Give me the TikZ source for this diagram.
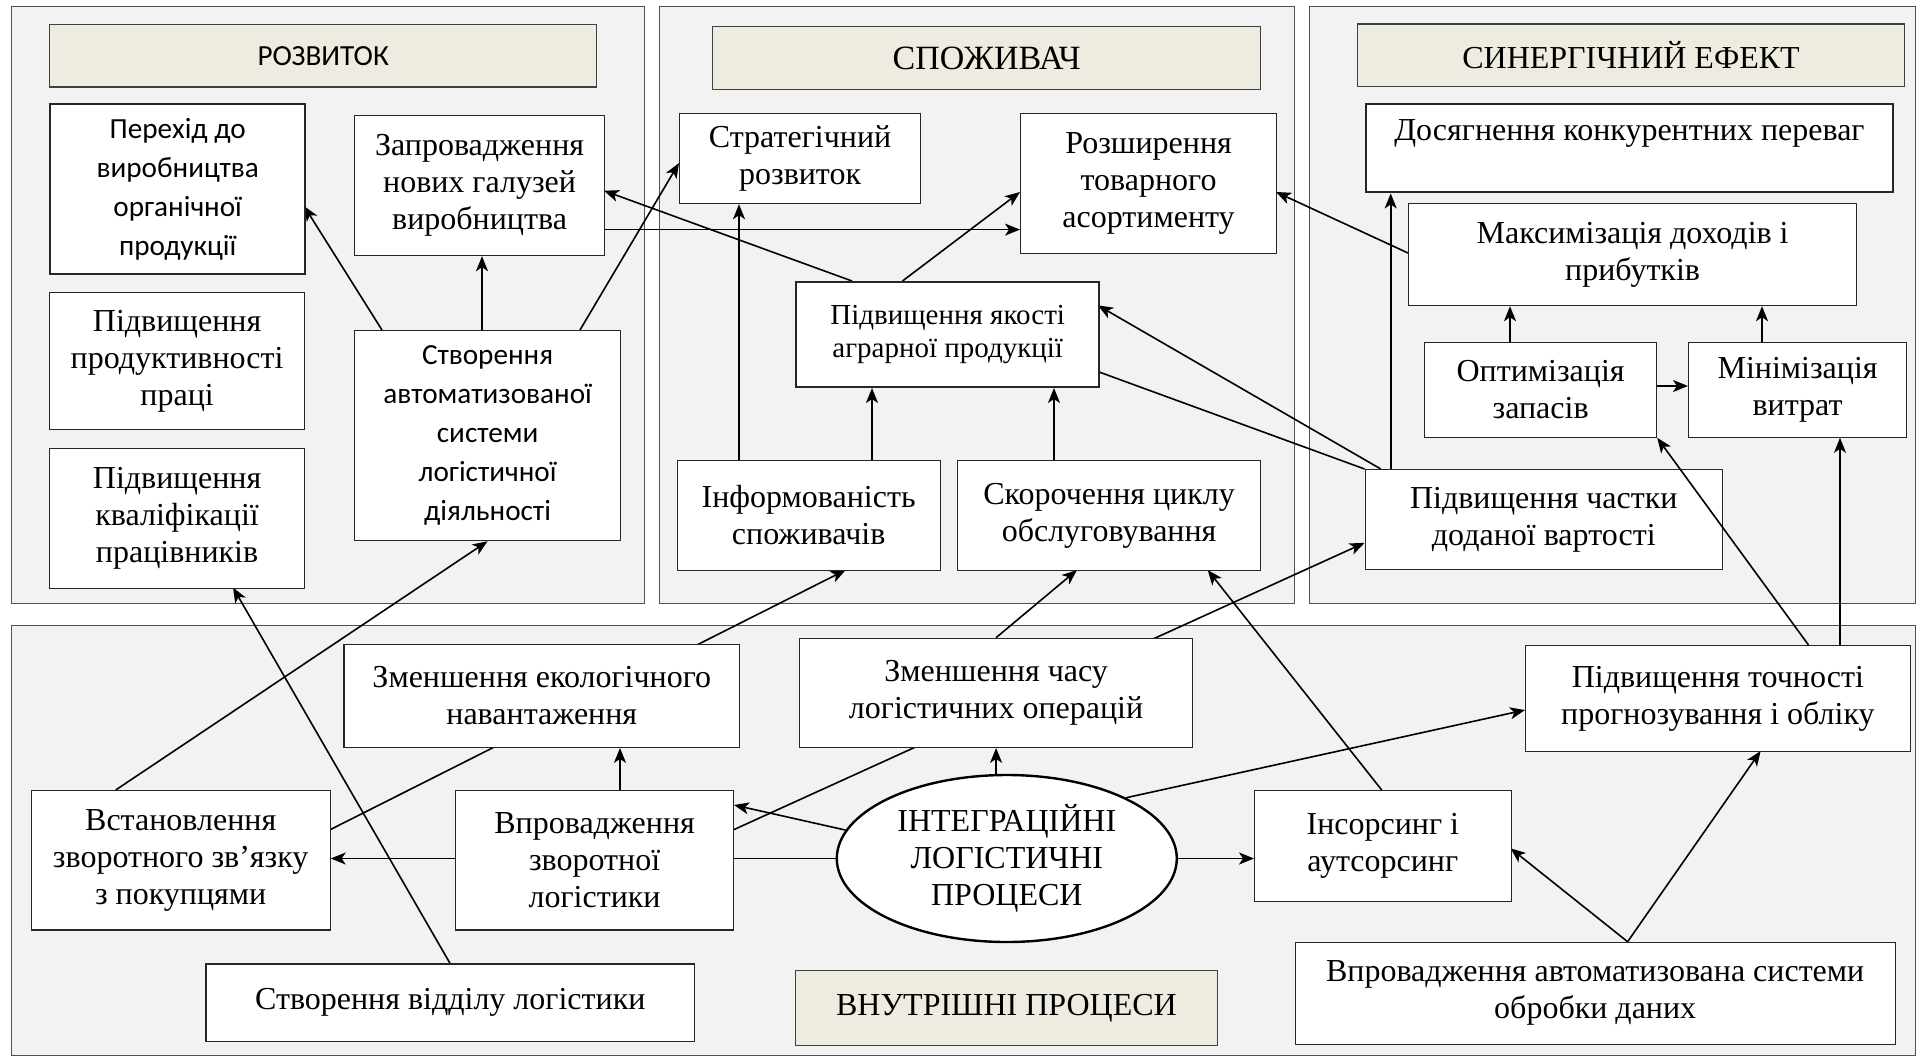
\documentclass[tikz,border=0pt]{standalone}
\usepackage{fontspec}
\setmainfont{Liberation Serif}
\newfontfamily\carl{Carlito}
\usetikzlibrary{arrows.meta,shapes.geometric}

\definecolor{panelfill}{HTML}{F2F2F2}
\definecolor{panelline}{HTML}{505050}
\definecolor{headfill}{HTML}{EEECE1}
\definecolor{headline}{HTML}{404040}

\pgfdeclarelayer{background}
\pgfdeclarelayer{edges}
\pgfsetlayers{background,edges,main}

\tikzset{
  panel/.style={draw=panelline, fill=panelfill, line width=0.7pt, inner sep=0pt, anchor=north west},
  head/.style={draw=headline, fill=headfill, line width=0.7pt, inner sep=0pt, anchor=north west, align=center},
  box/.style={draw=black!85, fill=white, line width=0.6pt, inner sep=0pt, anchor=north west, align=center},
  thick box/.style={box, line width=1.2pt},
  sz/.style 2 args={minimum width=#1, minimum height=#2},
  tnr/.style={font=\fontsize{16pt}{18.5pt}\selectfont},
  tnr small/.style={font=\fontsize{14.5pt}{16.5pt}\selectfont},
  tnr big/.style={font=\fontsize{17pt}{19pt}\selectfont},
  cbr/.style={font=\carl\fontsize{14.6pt}{19.5pt}\selectfont},
  arr/.style={draw=black, line width=0.8pt, -{Stealth[length=7.5pt,width=6pt,inset=2pt]}},
  plain/.style={draw=black, line width=0.8pt},
}

\begin{document}
\begin{tikzpicture}[x=0.5pt, y=-0.5pt]
\useasboundingbox (0,0) rectangle (1918,1057);

% ---------- group panels ----------
\begin{pgfonlayer}{background}
  \fill[white] (0,0) rectangle (1918,1057);
  \node[panel, sz={316.75pt}{298.5pt}] (p1) at (10.5,6) {};
  \node[panel, sz={317.5pt}{298.5pt}]  (p2) at (659,6) {};
  \node[panel, sz={303.15pt}{298.5pt}] (p3) at (1308.7,6) {};
  \node[panel, sz={952.25pt}{215pt}]   (p4) at (10.5,625) {};
\end{pgfonlayer}

% ---------- headers ----------
\node[head, cbr, sz={273.5pt}{31.2pt}]  (h1) at (49,24) {РОЗВИТОК};
\node[head, tnr big, sz={274pt}{31.35pt}] (h2) at (712,26) {СПОЖИВАЧ};
\node[head, tnr, sz={273.55pt}{31.35pt}] (h3) at (1356.8,23.3) {СИНЕРГІЧНИЙ ЕФЕКТ};
\node[head, tnr, sz={210.75pt}{37.5pt}] (h4) at (795,970) {ВНУТРІШНІ ПРОЦЕСИ};

% ---------- development ----------
\node[thick box, cbr, sz={127.5pt}{85pt}] (perehid) at (49,103) {Перехід до\\виробництва\\органічної\\продукції};
\node[box, tnr, sz={125pt}{70pt}]   (zaprov) at (354,115) {Запровадження\\нових галузей\\виробництва};
\node[box, tnr, sz={127.5pt}{68.5pt}] (produkt) at (49,292) {Підвищення\\продуктивності\\праці};
\node[box, tnr, sz={127.5pt}{69.75pt}] (kvalif) at (49,448) {Підвищення\\кваліфікації\\працівників};
\node[box, cbr, sz={133pt}{105pt}]  (stvavt) at (354,330) {Створення\\автоматизованої\\системи\\логістичної\\діяльності};

% ---------- consumer ----------
\node[box, tnr, sz={120.5pt}{45pt}] (strat) at (679,113) {Стратегічний\\розвиток};
\node[box, tnr, sz={128pt}{70pt}]   (rozsh) at (1020,113) {Розширення\\товарного\\асортименту};
\node[thick box, tnr small, sz={151.5pt}{52.3pt}] (yakist) at (795,281) {Підвищення якості\\аграрної продукції};
\node[box, tnr, sz={131.55pt}{55.25pt}] (inform) at (676.5,459.5) {Інформованість\\споживачів};
\node[box, tnr, sz={151.5pt}{55.25pt}]  (skor) at (957,459.5) {Скорочення циклу\\обслуговування};

% ---------- synergy ----------
\node[thick box, tnr, sz={263.7pt}{44pt}] (dosyag) at (1364.6,103) {Досягнення конкурентних переваг\\\mbox{}};
\node[box, tnr, sz={224pt}{51pt}]   (maks) at (1408,203) {Максимізація доходів і\\прибутків};
\node[box, tnr, sz={116pt}{47.3pt}] (optym) at (1424,342) {Оптимізація\\запасів};
\node[box, tnr, sz={109pt}{47.3pt}] (minim) at (1688,342) {Мінімізація\\витрат};
\node[box, tnr, sz={178.6pt}{50pt}] (chastka) at (1364.6,469) {Підвищення частки\\доданої вартості};

% ---------- internal processes ----------
\node[box, tnr, sz={197.8pt}{51.35pt}] (ekol) at (343.4,644) {Зменшення екологічного\\навантаження};
\node[box, tnr, sz={196.5pt}{54.5pt}]  (chas) at (799,637.7) {Зменшення часу\\логістичних операцій};
\node[box, tnr, sz={192.3pt}{53pt}]    (tochn) at (1525,645) {Підвищення точності\\прогнозування і обліку};
\node[box, tnr, sz={149.4pt}{69.65pt}] (vstan) at (30.7,790) {Встановлення\\зворотного зв’язку\\з покупцями};
\node[box, tnr, sz={139pt}{69.65pt}]   (vprzv) at (455,790) {Впровадження\\зворотної\\логістики};
\node[ellipse, draw=black, fill=white, line width=1.2pt, inner sep=0pt, align=center, tnr,
      minimum width=170pt, minimum height=83.5pt] (ell) at (1006.8,858.5) {ІНТЕГРАЦІЙНІ\\ЛОГІСТИЧНІ\\ПРОЦЕСИ};
\node[box, tnr, sz={128.25pt}{55.35pt}] (insors) at (1254,790) {Інсорсинг і\\аутсорсинг};
\node[box, tnr, sz={244.3pt}{38.85pt}]  (viddil) at (205.4,963.3) {Створення відділу логістики};
\node[box, tnr, sz={300pt}{50.9pt}]     (vprav) at (1294.6,941.7) {Впровадження автоматизована системи\\обробки даних};

% ---------- connectors (behind the boxes) ----------
\begin{pgfonlayer}{edges}
  % development
  \draw[arr] ([shift={(28,0)}]stvavt.north west) -- ([shift={(255,103)}]perehid.north west);
  \draw[arr] ([shift={(128,0)}]stvavt.north west) coordinate (c2) -- (c2 |- zaprov.south);
  \draw[arr] ([shift={(226,0)}]stvavt.north west) -- ([shift={(0,50)}]strat.north west);
  \draw[arr] ([shift={(57,0)}]yakist.north west) -- ([shift={(250,75.7)}]zaprov.north west);
  \draw[arr] ([shift={(250,114.6)}]zaprov.north west) coordinate (c5) -- (c5 -| rozsh.west);
  % consumer
  \draw[arr] ([shift={(62.5,0)}]inform.north west) coordinate (c6) -- (c6 |- strat.south);
  \draw[arr] ([shift={(195.5,0)}]inform.north west) coordinate (c7) -- (c7 |- yakist.south);
  \draw[arr] ([shift={(97,0)}]skor.north west) coordinate (c8) -- (c8 |- yakist.south);
  \draw[arr] ([shift={(107.5,0)}]yakist.north west) -- ([shift={(0,79)}]rozsh.north west);
  \draw[arr] ([shift={(0,50)}]maks.north west) -- ([shift={(256,79)}]rozsh.north west);
  \draw[arr] ([shift={(16.2,0)}]chastka.north west) -- ([shift={(303,24.4)}]yakist.north west);
  \draw[plain] ([shift={(303,90.6)}]yakist.north west) -- (chastka.north west);
  % synergy
  \draw[arr] ([shift={(26.1,0)}]chastka.north west) coordinate (c13) -- (c13 |- dosyag.south);
  \draw[arr] ([shift={(86,0)}]optym.north west) coordinate (c14) -- (c14 |- maks.south);
  \draw[arr] ([shift={(74,0)}]minim.north west) coordinate (c15) -- (c15 |- maks.south);
  \draw[arr] ([shift={(232,44)}]optym.north west) coordinate (c16) -- (c16 -| minim.west);
  % internal processes
  \draw[arr] ([shift={(85,0)}]vstan.north west) -- (stvavt.south);
  \draw[arr] ([shift={(244.6,0)}]viddil.north west) -- ([shift={(184,139.5)}]kvalif.north west);
  \draw[arr] ([shift={(298.8,40)}]vstan.north west) -- ([shift={(169.2,110.5)}]inform.north west);
  \draw[arr] ([shift={(278,40)}]vprzv.north west) -- ([shift={(0,73.8)}]chastka.north west);
  \draw[arr] (ell.north -| chas.south) -- (chas.south);
  \draw[arr] ([shift={(197,0)}]chas.north west) -- ([shift={(120,110.5)}]skor.north west);
  \draw[arr] (ell.170) -- ([shift={(279,15)}]vprzv.north west);
  \draw[arr] (ell.west) -- (ell.west -| vstan.east);
  \draw[arr] ([shift={(165,0)}]vprzv.north west) coordinate (c25) -- (c25 |- ekol.south);
  \draw[arr] (ell.east) -- (ell.east -| insors.west);
  \draw[arr] (ell.27) -- ([shift={(0,65)}]tochn.north west);
  \draw[arr] ([shift={(333,0)}]vprav.north west) -- ([shift={(256.5,58.3)}]insors.north west);
  \draw[arr] ([shift={(333,0)}]vprav.north west) -- ([shift={(235.6,106)}]tochn.north west);
  \draw[arr] ([shift={(315,0)}]tochn.north west) coordinate (c31) -- (c31 |- minim.south);
  \draw[arr] ([shift={(127.7,0)}]insors.north west) -- ([shift={(250.7,110.5)}]skor.north west);
\end{pgfonlayer}

% this one runs across the corner of the value-added box, on top of it
\draw[arr] ([shift={(283.5,0)}]tochn.north west) -- (optym.south east);
\end{tikzpicture}
\end{document}
